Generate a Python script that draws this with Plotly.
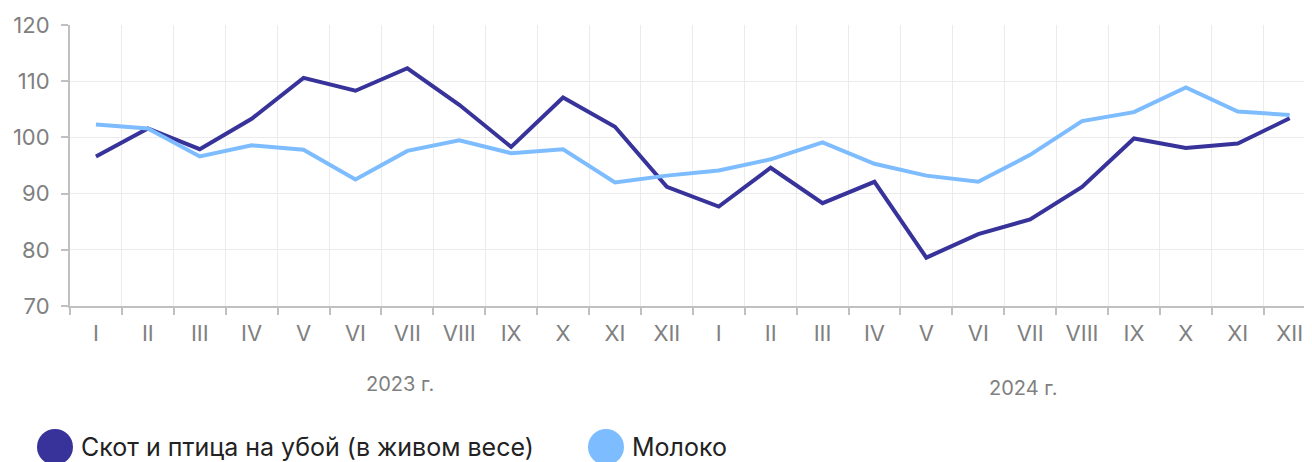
import plotly.graph_objects as go

months = ["I", "II", "III", "IV", "V", "VI", "VII", "VIII", "IX", "X", "XI", "XII"]
tick_labels = months + months
years = ["2023 г.", "2024 г."]

series_names = ["Скот и птица на убой (в живом весе)", "Молоко"]
livestock = [96.6, 101.6, 97.9, 103.3, 110.6, 108.3, 112.3, 105.8, 98.3, 107.1, 101.9, 91.2,
             87.7, 94.6, 88.3, 92.1, 78.6, 82.8, 85.4, 91.2, 99.8, 98.1, 98.9, 103.4]
milk = [102.3, 101.6, 96.6, 98.6, 97.8, 92.5, 97.6, 99.5, 97.2, 97.9, 92.0, 93.2,
        94.1, 96.1, 99.1, 95.3, 93.2, 92.1, 96.9, 102.9, 104.5, 108.9, 104.6, 104.0]

colors = ["#37339a", "#7dbcff"]

# the page body adds an 8px margin; positions below are in page pixels
OFF = 8
W, H = 1312, 462
PLOT_LEFT, PLOT_TOP, PLOT_BOTTOM = 70, 25, 306
L = PLOT_LEFT - OFF
T = PLOT_TOP - OFF
B = H - (PLOT_BOTTOM - OFF)
R = 0
PW, PH = W - L - R, H - T - B
FONT = "Inter, Liberation Sans, Arial, sans-serif"


def px(xp):
    return (xp - OFF - L) / PW


def py(yp):
    return (H - B - (yp - OFF)) / PH


x = list(range(len(tick_labels)))
step = 51.9
x_max = -0.5 + PW / step

fig = go.Figure()
for name, vals, c in zip(series_names, [livestock, milk], colors):
    fig.add_trace(go.Scatter(x=x, y=vals, mode="lines", name=name,
                             line=dict(color=c, width=4), showlegend=False))

axis_font = dict(family=FONT, size=22, color="#808080")

fig.update_layout(
    width=W, height=H,
    margin=dict(l=L, r=R, t=T, b=B, autoexpand=False),
    plot_bgcolor="white", paper_bgcolor="white",
    xaxis=dict(
        range=[-0.5, x_max], automargin=False,
        tickmode="array", tickvals=x, ticktext=tick_labels,
        showgrid=False, ticks="", tickfont=axis_font,
        showline=True, linecolor="#c0c0c0", linewidth=2,
        ticklabelstandoff=7,
        zeroline=False,
        minor=dict(tickmode="linear", tick0=-0.5, dtick=1, showgrid=True,
                   gridcolor="#ebebeb", gridwidth=1, ticks="outside",
                   ticklen=7, tickcolor="#c0c0c0", tickwidth=2),
    ),
    yaxis=dict(
        range=[70, 120], tickmode="linear", tick0=70, dtick=10, automargin=False,
        showgrid=True, gridcolor="#ebebeb", gridwidth=1,
        ticks="outside", ticklen=7, tickcolor="#c0c0c0", tickwidth=2,
        showline=True, linecolor="#c0c0c0", linewidth=2,
        tickfont=axis_font, ticklabelstandoff=7, zeroline=False,
    ),
    showlegend=False,
)

# year labels
year_pos = [(400, 384), (1023, 388)]
for label, (xp, yp) in zip(years, year_pos):
    fig.add_annotation(x=px(xp), y=py(yp), xref="paper", yref="paper", text=label,
                       showarrow=False, xanchor="center", yanchor="middle",
                       font=dict(family=FONT, size=20, color="#808080"))

# custom legend
legend_items = [(55, 447, 79), (606, 447, 630)]
r = 18
for (cx, cy, tx), name, c in zip(legend_items, series_names, colors):
    fig.add_shape(type="circle", xref="paper", yref="paper",
                  x0=px(cx - r), x1=px(cx + r), y0=py(cy + r), y1=py(cy - r),
                  fillcolor=c, line=dict(width=0))
    fig.add_annotation(x=px(tx), y=py(cy), xref="paper", yref="paper", text=name,
                       showarrow=False, xanchor="left", yanchor="middle",
                       font=dict(family=FONT, size=25, color="#222222"))

fig.write_html("out.html")
